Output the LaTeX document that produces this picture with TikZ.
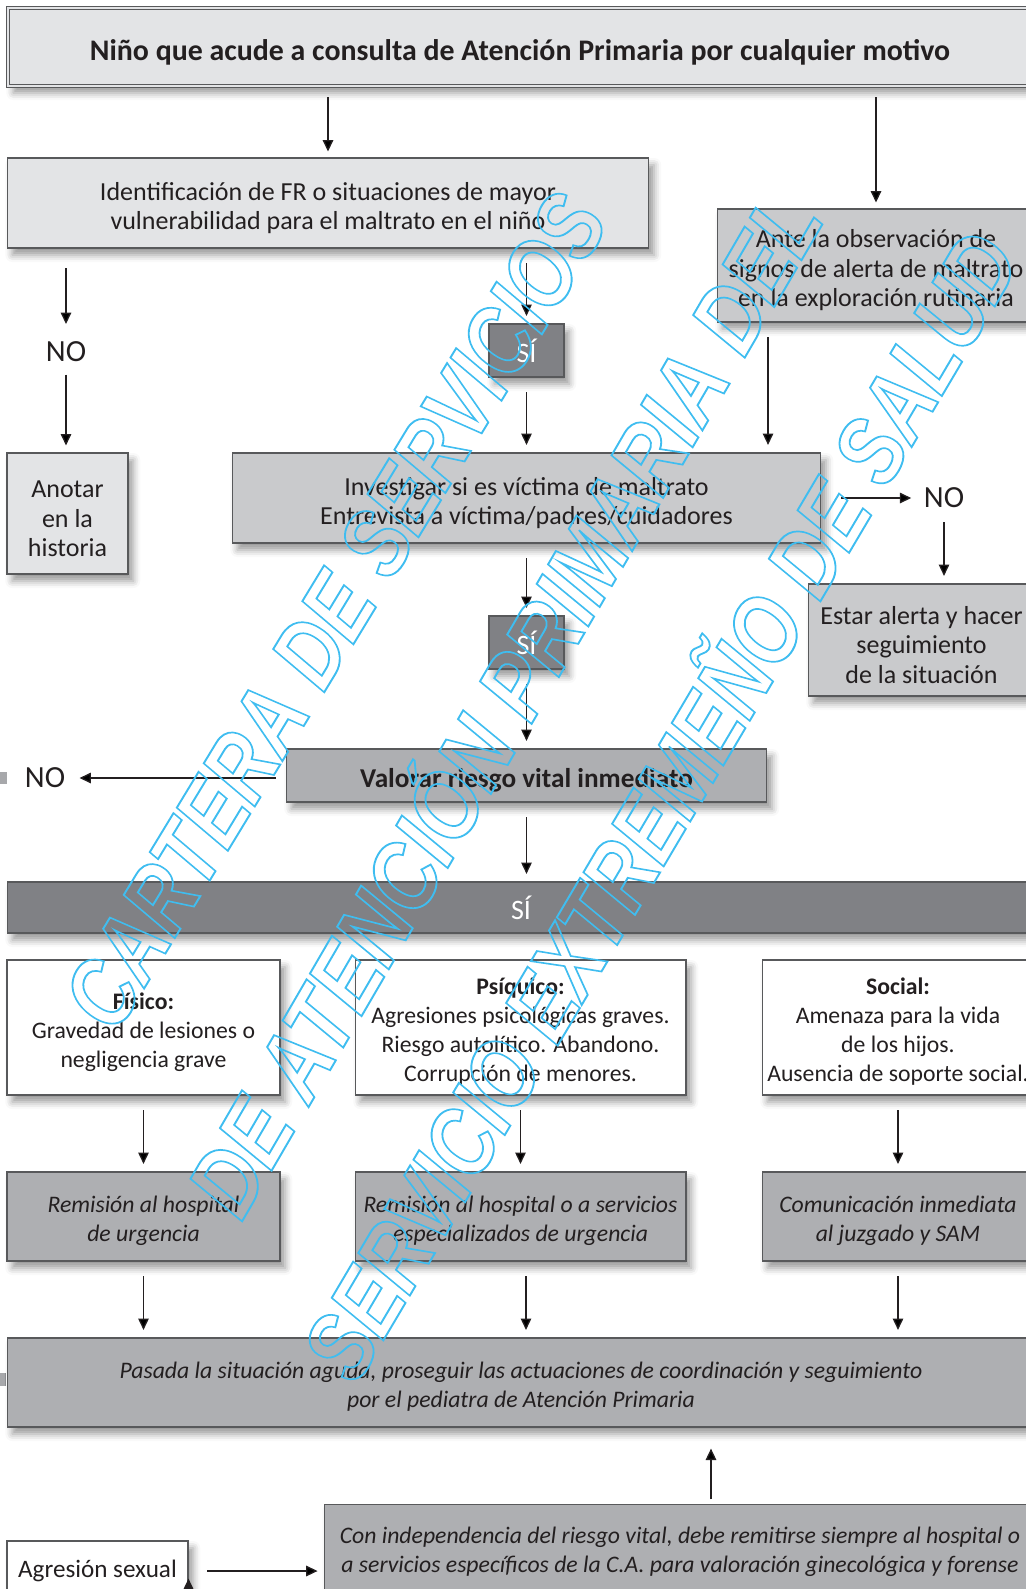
\documentclass[tikz,border=0pt]{standalone}
\usepackage{fontspec}
\setmainfont{Carlito}
\newfontfamily\wmfont{Liberation Sans}
\usepackage{graphicx}
\usetikzlibrary{arrows.meta,shadows.blur,positioning}

\definecolor{ink}{HTML}{231F20}
\definecolor{frame}{HTML}{58595B}
\definecolor{lightfill}{HTML}{E3E4E6}
\definecolor{midfill}{HTML}{C9CACC}
\definecolor{darkfill}{HTML}{AEAFB2}
\definecolor{sifill}{HTML}{808185}
\definecolor{markgrey}{HTML}{A7A8AB}
\definecolor{wmcyan}{HTML}{3FBDF0}

\newcommand{\bigtext}{\fontsize{14.8}{16.7}\selectfont}
\newcommand{\smalltext}{\fontsize{13.5}{16.5}\selectfont}
\newcommand{\tstrut}{\rule{0pt}{1.06em}}

\tikzset{
  box/.style={draw=frame, line width=0.6pt, align=center, inner sep=0pt, text=ink, font=\bigtext,
    blur shadow={shadow xshift=3pt, shadow yshift=-4pt, shadow blur radius=4pt, shadow opacity=40}},
  pale/.style={box, fill=lightfill},
  grey/.style={box, fill=midfill},
  dark/.style={box, fill=darkfill, font=\itshape\smalltext},
  plain/.style={box, fill=white, font=\smalltext},
  sibox/.style={box, fill=sifill, text=white, font=\fontsize{16}{18}\selectfont},
  lab/.style={inner sep=0pt, text=ink, font=\fontsize{17.5}{19}\selectfont},
  arr/.style={draw=ink, line width=0.75pt, -{Triangle[length=6.5pt,width=6pt]},
    shorten <=8.5pt, shorten >=4.3pt},
  stamp/.style={inner sep=0pt, text=wmcyan, font=\wmfont\bfseries\itshape\fontsize{55}{55}\selectfont}
}

% watermark text: letters stroked only (hollow)
\newcommand{\wmtext}[2]{\resizebox{#1}{1.32cm}{\special{pdf:literal direct 1 Tr 1.1 w}\smash{#2}\special{pdf:literal direct 0 Tr}\vphantom{E}}}

\begin{document}
\begin{tikzpicture}[x=0.02cm, y=-0.02cm]
  \useasboundingbox (0,0) rectangle (1025,1589);

  % marks at the left edge
  \fill[markgrey] (0,772) rectangle (7,784);
  \fill[markgrey] (0,1373) rectangle (6,1386);

  % boxes
  \draw (520,47) node[pale, minimum width=20.48cm, minimum height=1.56cm, double=lightfill, double distance=1.5pt,
    font=\bfseries\fontsize{17}{19}\selectfont] (top) {\tstrut Niño que acude a consulta de Atención Primaria por cualquier motivo};
  \draw (328,203) node[pale, minimum width=12.84cm, minimum height=1.8cm] (ident)
    {\tstrut Identificación de FR o situaciones de mayor\\vulnerabilidad para el maltrato en el niño};
  \draw (876,265.5) node[grey, minimum width=6.36cm, minimum height=2.26cm] (ante)
    {\tstrut Ante la observación de\\signos de alerta de maltrato\\en la exploración rutinaria};
  \draw (66,352) node[lab] (no1) {NO};
  \draw (67.5,513.5) node[pale, minimum width=2.42cm, minimum height=2.42cm] (anotar) {\tstrut Anotar\\en la\\historia};
  \draw (526.5,350.5) node[sibox, minimum width=1.5cm, minimum height=1.06cm] (si1) {SÍ};
  \draw (526.5,498) node[grey, minimum width=11.78cm, minimum height=1.8cm] (inv)
    {\tstrut Investigar si es víctima de maltrato\\Entrevista a víctima/padres/cuidadores};
  \draw (944,498) node[lab] (no2) {NO};
  \draw (921.5,640) node[grey, minimum width=4.54cm, minimum height=2.24cm] (alerta)
    {\tstrut Estar alerta y hacer\\seguimiento\\de la situación};
  \draw (526.5,642.5) node[sibox, minimum width=1.5cm, minimum height=1.06cm] (si2) {SÍ};
  \draw (526.5,775.5) node[dark, minimum width=9.62cm, minimum height=1.06cm,
    font=\bfseries\fontsize{15.5}{17}\selectfont] (valorar) {\tstrut Valorar riesgo vital inmediato};
  \draw (45,778) node[lab] (no3) {NO};
  \draw (521,907.5) node[sibox, minimum width=20.56cm, minimum height=1.02cm] (sibar) {SÍ};

  \draw (143.5,1027.5) node[plain, minimum width=5.46cm, minimum height=2.7cm] (fisico)
    {\tstrut\textbf{Físico:}\\Gravedad de lesiones o\\negligencia grave};
  \draw (520.5,1027.5) node[plain, minimum width=6.62cm, minimum height=2.7cm] (psiquico)
    {\tstrut\textbf{Psíquico:}\\Agresiones psicológicas graves.\\Riesgo autolítico. Abandono.\\Corrupción de menores.};
  \draw (898,1027.5) node[plain, minimum width=5.44cm, minimum height=2.7cm] (social)
    {\tstrut\textbf{Social:}\\Amenaza para la vida\\de los hijos.\\Ausencia de soporte social.};

  \draw (143.5,1216.5) node[dark, minimum width=5.46cm, minimum height=1.78cm] (hosp)
    {\tstrut Remisión al hospital\\de urgencia};
  \draw (520.5,1216.5) node[dark, minimum width=6.62cm, minimum height=1.78cm] (hospesp)
    {\tstrut Remisión al hospital o a servicios\\especializados de urgencia};
  \draw (898,1216.5) node[dark, minimum width=5.44cm, minimum height=1.78cm] (juzgado)
    {\tstrut Comunicación inmediata\\al juzgado y SAM};
  \draw (521,1382.5) node[dark, minimum width=20.56cm, minimum height=1.78cm] (pasada)
    {\tstrut Pasada la situación aguda, proseguir las actuaciones de coordinación y seguimiento\\por el pediatra de Atención Primaria};
  \draw (680,1552) node[dark, minimum width=14.24cm, minimum height=1.92cm] (forense)
    {Con independencia del riesgo vital, debe remitirse siempre al hospital o\\a servicios específicos de la C.A. para valoración ginecológica y forense};
  \draw (97.5,1571) node[plain, minimum width=3.62cm, minimum height=1.2cm, font=\fontsize{14.3}{16}\selectfont] (agresion)
    {Agresión sexual};

  % arrows
  \path[arr]
    (top.south -| ident.north) edge[shorten <=6.2pt, shorten >=3.4pt] (ident.north)
    (top.south -| ante.north) edge[shorten <=6.2pt, shorten >=3.4pt] (ante.north)
    (ident.south -| no1.north) edge[shorten <=11.3pt, shorten >=10pt] (no1.north)
    (no1.south) edge[shorten <=7pt, shorten >=4pt] (no1.south |- anotar.north)
    (ident.south -| si1.north) edge (si1.north)
    (si1.south) edge (inv.north)
    ([xshift=-2.16cm]ante.south) edge ([xshift=-2.16cm]ante.south |- inv.north)
    (inv.east) edge[shorten <=11.3pt, shorten >=7pt] (no2.west)
    (no2.south) edge[shorten <=8pt] (no2.south |- alerta.north)
    (inv.south) edge (si2.north)
    (si2.south) edge (valorar.north)
    (no3.east -| valorar.west) edge[shorten <=5.7pt, shorten >=8pt] (no3.east)
    (valorar.south) edge (sibar.north -| valorar.south)
    (fisico.south) edge (hosp.north)
    (psiquico.south) edge (hospesp.north)
    (social.south) edge (juzgado.north)
    (hosp.south) edge (pasada.north -| hosp.south)
    ([xshift=0.11cm]hospesp.south) edge ([xshift=0.11cm]hospesp.south |- pasada.north)
    (juzgado.south) edge (pasada.north -| juzgado.south)
    ([xshift=0.62cm]forense.north) edge[shorten <=2.3pt, shorten >=12pt] ([xshift=0.62cm]forense.north |- pasada.south)
    (agresion.east) edge[shorten <=10.8pt, shorten >=3.4pt] (agresion.east -| forense.west);

  % watermark
  \node[stamp, rotate=58.7] (wm1) at (335,611) {\wmtext{19.06cm}{CARTERA DE SERVICIOS}};
  \node[stamp, rotate=59.8] (wm2) at (505,704) {\wmtext{23.24cm}{DE ATENCIÓN PRIMARIA DEL}};
  \node[stamp, rotate=59.4] (wm3) at (661,806) {\wmtext{26.2cm}{SERVICIO EXTREMEÑO DE SALUD}};
\end{tikzpicture}
\end{document}
